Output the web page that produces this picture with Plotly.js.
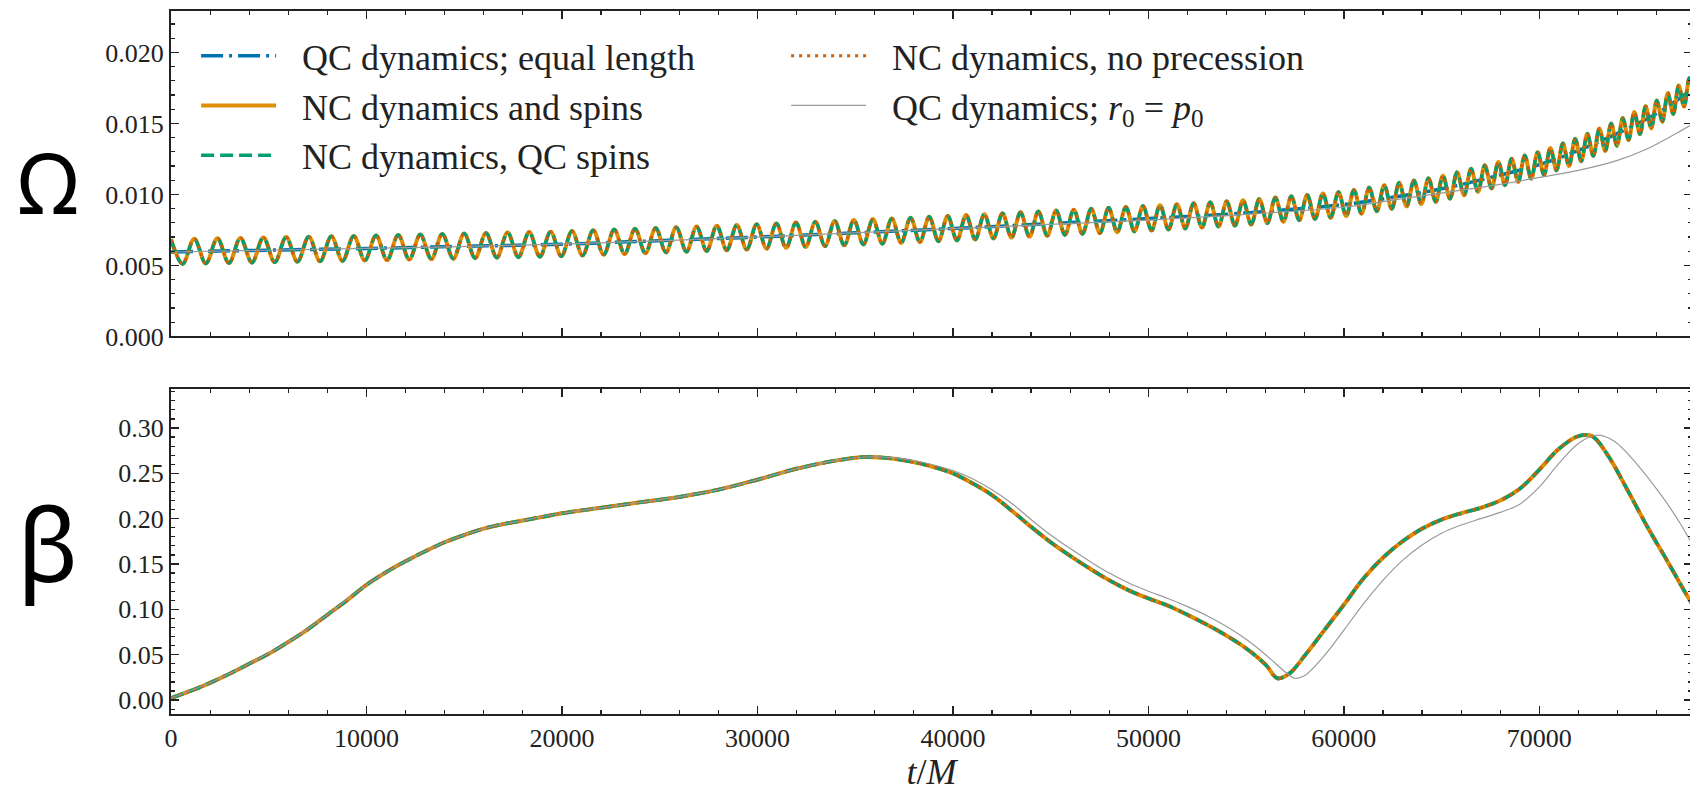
<!DOCTYPE html>
<html>
<head>
<meta charset="utf-8">
<script src="https://cdn.plot.ly/plotly-3.0.1.min.js"></script>
<style>
html,body{margin:0;padding:0;background:#fff;overflow:hidden;}
#chart{width:1694px;height:792px;}
</style>
</head>
<body>
<div id="chart"></div>
<script>
// ---- Top panel: orbital frequency Omega ----
// NC dynamics: times of successive maxima / minima of the oscillation
const tNC = [
0, 595, 1189, 1782, 2373, 2963, 3552, 4139, 4724, 5308, 5890, 6470, 7049, 7626, 8201, 8775, 9347, 9917,
10487, 11056, 11623, 12189, 12754, 13317, 13879, 14439, 14998, 15556, 16112, 16667, 17220, 17772, 18323, 18872, 19420, 19967,
20512, 21055, 21596, 22135, 22672, 23206, 23738, 24268, 24796, 25322, 25846, 26368, 26888, 27405, 27920, 28433, 28944, 29453, 29960,
30465, 30968, 31470, 31970, 32468, 32964, 33459, 33952, 34443, 34933, 35421, 35907, 36391, 36874, 37355, 37834, 38312, 38788, 39262, 39735,
40206, 40675, 41143, 41609, 42073, 42536, 42997, 43457, 43915, 44371, 44826, 45279, 45731, 46181, 46629, 47076, 47521, 47965, 48407, 48848, 49287, 49725,
50161, 50595, 51028, 51459, 51888, 52315, 52741, 53165, 53587, 54008, 54427, 54844, 55260, 55674, 56086, 56497, 56906, 57313, 57719, 58123, 58526, 58927, 59326, 59724,
60120, 60514, 60906, 61296, 61683, 62068, 62451, 62831, 63209, 63585, 63959, 64330, 64699,
65066, 65431, 65792, 66151, 66507, 66860, 67210, 67557, 67902, 68244, 68583, 68919, 69253, 69584, 69912,
70238, 70561, 70882, 71201, 71518, 71832, 72144, 72454, 72762, 73068, 73372, 73673, 73972, 74269, 74564, 74857,
75148, 75437, 75724, 76009, 76292, 76573, 76852, 77129, 77404, 77677, 77948
];
const omegaNC = [
0.00685, 0.00511, 0.00688, 0.00514, 0.00691, 0.00517, 0.00694, 0.00520, 0.00697, 0.00523, 0.00700, 0.00526, 0.00703, 0.00529, 0.00706, 0.00532, 0.00708, 0.00535,
0.00711, 0.00538, 0.00715, 0.00542, 0.00718, 0.00545, 0.00722, 0.00548, 0.00725, 0.00552, 0.00728, 0.00555, 0.00732, 0.00558, 0.00735, 0.00562, 0.00738, 0.00565,
0.00743, 0.00570, 0.00748, 0.00576, 0.00753, 0.00581, 0.00759, 0.00586, 0.00764, 0.00592, 0.00769, 0.00597, 0.00774, 0.00602, 0.00780, 0.00607, 0.00785, 0.00612, 0.00790,
0.00618, 0.00796, 0.00624, 0.00802, 0.00630, 0.00808, 0.00636, 0.00814, 0.00642, 0.00820, 0.00648, 0.00825, 0.00653, 0.00831, 0.00659, 0.00837, 0.00665, 0.00843, 0.00671, 0.00848,
0.00676, 0.00855, 0.00683, 0.00861, 0.00690, 0.00868, 0.00696, 0.00874, 0.00702, 0.00881, 0.00709, 0.00887, 0.00715, 0.00893, 0.00722, 0.00900, 0.00728, 0.00906, 0.00734, 0.00912, 0.00740, 0.00918,
0.00746, 0.00925, 0.00753, 0.00932, 0.00760, 0.00939, 0.00767, 0.00945, 0.00774, 0.00952, 0.00780, 0.00959, 0.00788, 0.00968, 0.00798, 0.00978, 0.00808, 0.00988, 0.00818, 0.00997, 0.00827, 0.01007, 0.00837, 0.01017,
0.00848, 0.01031, 0.00865, 0.01049, 0.00882, 0.01065, 0.00899, 0.01082, 0.00916, 0.01099, 0.00932, 0.01115, 0.00948,
0.01132, 0.00970, 0.01157, 0.00994, 0.01181, 0.01018, 0.01205, 0.01042, 0.01229, 0.01065, 0.01252, 0.01088, 0.01275, 0.01111, 0.01297,
0.01137, 0.01328, 0.01169, 0.01360, 0.01201, 0.01392, 0.01234, 0.01427, 0.01271, 0.01464, 0.01307, 0.01500, 0.01343, 0.01539, 0.01384, 0.01580,
0.01425, 0.01621, 0.01466, 0.01661, 0.01513, 0.01714, 0.01566, 0.01767, 0.01619, 0.01820, 0.01671
];
// QC dynamics; equal length
const tQC = [0, 5000, 10000, 15000, 20000, 25000, 30000, 35000, 40000, 45000, 50000, 55000, 60000, 62500, 65000, 67500, 70000, 72000, 74000, 76000, 77000, 78000];
const omegaQC = [0.00595, 0.00608, 0.0062, 0.00635, 0.0065, 0.00675, 0.0070, 0.0073, 0.0076, 0.00795, 0.0083, 0.0087, 0.0093, 0.0098, 0.0104, 0.0112, 0.0121, 0.0131, 0.0143, 0.0157, 0.0166, 0.0176];
// QC dynamics; r0 = p0
const tQCr = [0, 10000, 20000, 30000, 40000, 50000, 55000, 60000, 62500, 65000, 67500, 70000, 72000, 74000, 75500, 77000, 78000];
const omegaQCr = [0.00595, 0.0062, 0.0065, 0.0070, 0.0076, 0.0082, 0.0086, 0.0091, 0.0096, 0.0101, 0.0106, 0.0112, 0.0117, 0.0124, 0.0132, 0.0143, 0.0151];

// ---- Bottom panel: beta ----
const tBeta = [0, 1000, 2000, 3000, 4000, 5000, 6000, 7000, 8000, 9000, 10000, 11000, 12000, 13000, 14000, 15000, 16000, 17000, 18000, 19000, 20000,
22000, 24000, 26000, 28000, 30000, 32000, 34000, 35500, 37000, 38500,
40000, 41000, 42000, 43000, 44000, 45000, 46000, 47000, 48000, 49000, 50000, 51000, 52000, 53000, 54000, 55000, 56000, 56600, 57200,
58000, 59000, 60000, 61000, 62000, 63000, 64000, 65000, 66000, 67000, 68000, 69000, 70000, 71000, 72000,
72700, 73500, 74500, 75500, 76500, 77700, 78000];
const betaNC = [0.002, 0.010, 0.019, 0.029, 0.040, 0.051, 0.064, 0.078, 0.094, 0.110, 0.127, 0.141, 0.153, 0.164, 0.174, 0.182, 0.189, 0.194, 0.198, 0.202, 0.206,
0.212, 0.218, 0.224, 0.232, 0.243, 0.255, 0.264, 0.268, 0.266, 0.260,
0.250, 0.239, 0.226, 0.209, 0.191, 0.174, 0.159, 0.145, 0.132, 0.121, 0.112, 0.104, 0.094, 0.083, 0.071, 0.057, 0.039, 0.024, 0.029,
0.049, 0.077, 0.105, 0.134, 0.157, 0.175, 0.189, 0.199, 0.206, 0.212, 0.220, 0.233, 0.254, 0.277, 0.291,
0.291, 0.270, 0.232, 0.192, 0.155, 0.110, 0.100];
const tBetaR = [0, 2000, 4000, 6000, 8000, 10000, 12000, 14000, 16000, 18000, 20000,
22000, 24000, 26000, 28000, 30000, 32000, 34000, 35500, 37000, 38500,
40000, 41000, 42000, 43000, 44000, 45000, 46000, 47000, 48000, 49000, 50000, 51000, 52000, 53000, 54000, 55000, 56000, 57000, 57500,
58000, 59000, 60000, 61000, 62000, 63000, 64000, 65000, 66000, 67000, 68000, 69000, 70000, 71000, 72000,
72900, 73800, 75000, 76300, 77200, 78000];
const betaR = [0.002, 0.019, 0.040, 0.064, 0.094, 0.127, 0.153, 0.174, 0.189, 0.198, 0.206,
0.212, 0.218, 0.224, 0.232, 0.243, 0.255, 0.264, 0.268, 0.267, 0.262,
0.253, 0.244, 0.232, 0.217, 0.199, 0.182, 0.167, 0.153, 0.140, 0.129, 0.120, 0.112, 0.103, 0.093, 0.081, 0.067, 0.050, 0.031, 0.024,
0.027, 0.049, 0.077, 0.106, 0.132, 0.154, 0.171, 0.184, 0.193, 0.200, 0.207, 0.216, 0.235, 0.261, 0.283,
0.292, 0.286, 0.260, 0.224, 0.195, 0.165];

const labels = ['QC dynamics; equal length', 'NC dynamics and spins', 'NC dynamics, QC spins', 'NC dynamics, no precession', 'QC dynamics; <i>r</i><sub>0</sub> = <i>p</i><sub>0</sub>'];

const C = {blue:'#0173B2', orange:'#DE8F05', green:'#029E73', red:'#D55E00', gray:'#9a9a9a'};
const SP = '\u2002\u200a';
const styles = [
  {color:C.blue, width:3.5, dash:'22px,6px,3px,6px', rank:1},
  {color:C.orange, width:4, dash:'solid', rank:3},
  {color:C.green, width:3.5, dash:'13px,6px', rank:5},
  {color:C.red, width:3, dash:'3px,5px', rank:2},
  {color:C.gray, width:1.2, dash:'solid', rank:4}
];
const topX = [tQC, tNC, tNC, tNC, tQCr];
const topY = [omegaQC, omegaNC, omegaNC, omegaNC, omegaQCr];
const botX = [tBeta, tBeta, tBeta, tBeta, tBetaR];
const botY = [betaNC, betaNC, betaNC, betaNC, betaR];

const data = [];
for (let i = 0; i < 5; i++) {
  data.push({x: topX[i], y: topY[i], xaxis:'x', yaxis:'y', type:'scatter', mode:'lines',
    name: SP + labels[i], legendrank: styles[i].rank,
    line:{color:styles[i].color, width:styles[i].width, dash:styles[i].dash, shape:'spline', smoothing:1}});
}
for (let i = 0; i < 5; i++) {
  data.push({x: botX[i], y: botY[i], xaxis:'x2', yaxis:'y2', type:'scatter', mode:'lines', showlegend:false,
    line:{color:styles[i].color, width:styles[i].width, dash:styles[i].dash, shape:'spline', smoothing:1}});
}

const serif = 'Liberation Serif, Times New Roman, serif';
const axC = '#222';
function xax(extra){
  return Object.assign({range:[0, 77810], showline:true, linecolor:axC, linewidth:2, mirror:'allticks',
    ticks:'inside', ticklen:8, tickwidth:1.3, tickcolor:axC, dtick:10000, tick0:0, tickformat:'d',
    minor:{ticks:'inside', dtick:2000, ticklen:4, tickwidth:1.2, tickcolor:axC},
    showgrid:false, zeroline:false, tickfont:{family:serif, size:26, color:'#222'}}, extra);
}
function yax(extra){
  return Object.assign({showline:true, linecolor:axC, linewidth:2, mirror:'allticks',
    ticks:'inside', ticklen:8, tickwidth:1.3, tickcolor:axC,
    showgrid:false, zeroline:false, tickfont:{family:serif, size:26, color:'#222'}}, extra);
}

const layout = {
  width:1694, height:792,
  margin:{l:171, r:2, t:11, b:78, pad:0},
  paper_bgcolor:'#fff', plot_bgcolor:'#fff',
  showlegend:true,
  legend:{orientation:'h', x:0.0165, y:0.979, xanchor:'left', yanchor:'top',
    bgcolor:'rgba(0,0,0,0)', borderwidth:0, itemwidth:75,
    entrywidth:500, entrywidthmode:'pixels',
    font:{family:serif, size:36, color:'#222'}},
  xaxis: xax({anchor:'y', domain:[0,1], showticklabels:false}),
  yaxis: yax({anchor:'x', domain:[0.537,1], range:[0, 0.02292], dtick:0.005, tick0:0, tickformat:'.3f',
    minor:{ticks:'inside', dtick:0.001, ticklen:4, tickwidth:1.2, tickcolor:axC}}),
  xaxis2: xax({anchor:'y2', domain:[0,1], showticklabels:true,
    title:{text:'<i>t</i>/<i>M</i>', font:{family:serif, size:36, color:'#222'}, standoff:2}}),
  yaxis2: yax({anchor:'x2', domain:[0,0.4619], range:[-0.0154, 0.3427], dtick:0.05, tick0:0, tickformat:'.2f',
    minor:{ticks:'inside', dtick:0.01, ticklen:4, tickwidth:1.2, tickcolor:axC}}),
  annotations:[
    {text:'Ω', xref:'paper', yref:'paper', x:-0.0809, y:0.757, xanchor:'center', yanchor:'middle', showarrow:false,
      font:{family:'Noto Sans, DejaVu Sans, sans-serif', size:84, color:'#000'}},
    {text:'β', xref:'paper', yref:'paper', x:-0.0812, y:0.243, xanchor:'center', yanchor:'middle', showarrow:false,
      font:{family:'Noto Sans, DejaVu Sans, sans-serif', size:100, color:'#000'}}
  ]
};

Plotly.newPlot('chart', data, layout, {staticPlot:true, displayModeBar:false});
</script>
</body>
</html>
